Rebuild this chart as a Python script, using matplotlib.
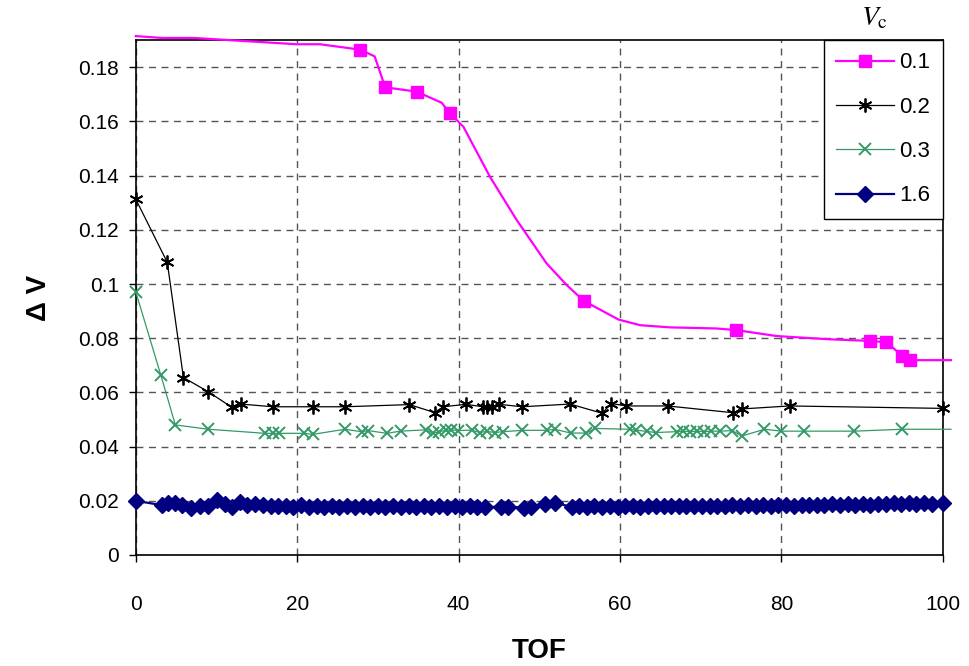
import matplotlib
matplotlib.use("Agg")
import matplotlib.pyplot as plt
from matplotlib.ticker import FuncFormatter

plt.rcParams["font.family"] = ["Liberation Sans", "DejaVu Sans"]
plt.rcParams["mathtext.fontset"] = "stix"

# Vc = 0.1 (smooth line, markers only on some points)
v01_x = [0, 3.3, 7.3, 19.9, 22.8, 27.8, 29.6, 30.9, 34.8, 37.9, 38.9, 40.6, 43.9,
         47.2, 50.9, 53.4, 55.5, 59.8, 62.5, 66.2, 71.9, 74.4, 79.4, 86.0, 91.0,
         93.0, 95.0, 95.9, 101.0]
v01_y = [0.1915, 0.1908, 0.1908, 0.1885, 0.1885, 0.1865, 0.184, 0.1726, 0.171,
         0.1669, 0.1631, 0.158, 0.1395, 0.1236, 0.1076, 0.0996, 0.0938, 0.0869,
         0.0848, 0.084, 0.0836, 0.083, 0.0808, 0.0796, 0.079, 0.0785, 0.0735,
         0.0719, 0.0719]
v01_marked = [5, 7, 8, 10, 16, 21, 24, 25, 26, 27]

# Vc = 0.2
v02_x = [0, 3.9, 5.9, 9.0, 11.9, 13.0, 17.0, 22.0, 25.9, 33.9, 37.1, 38.1, 40.9,
         43.0, 43.5, 44.1, 45.0, 47.9, 53.8, 57.8, 58.9, 60.8, 65.9, 74.0, 75.1,
         81.0, 100]
v02_y = [0.1313, 0.108, 0.0655, 0.0602, 0.0545, 0.0557, 0.0547, 0.0547, 0.0547,
         0.0555, 0.0525, 0.0547, 0.0556, 0.0547, 0.0547, 0.0547, 0.0556, 0.0547,
         0.0557, 0.0523, 0.0559, 0.055, 0.055, 0.0525, 0.0539, 0.055, 0.0541]

# Vc = 0.3
v03_x = [0, 3.1, 4.9, 9.0, 16.0, 17.0, 17.8, 20.9, 21.9, 25.9, 28.0, 28.8, 31.1,
         32.8, 36.0, 36.8, 37.6, 38.4, 39.1, 39.9, 41.6, 42.6, 43.5, 44.5, 45.5,
         47.9, 50.9, 51.9, 53.9, 55.8, 56.9, 61.2, 62.0, 63.3, 64.4, 67.0, 67.8,
         68.7, 69.5, 70.4, 71.3, 72.4, 73.9, 75.1, 77.9, 80.0, 82.8, 89.0, 95.0,
         101.0]
v03_y = [0.0971, 0.0664, 0.048, 0.0464, 0.0449, 0.0449, 0.0449, 0.0449, 0.0445,
         0.0464, 0.0455, 0.0459, 0.0449, 0.0457, 0.0462, 0.0449, 0.0455, 0.046,
         0.0462, 0.0459, 0.0461, 0.0452, 0.0456, 0.0452, 0.0455, 0.046, 0.046,
         0.0464, 0.045, 0.045, 0.0467, 0.0464, 0.0461, 0.0456, 0.0452, 0.0455,
         0.0457, 0.0455, 0.0457, 0.0455, 0.0457, 0.0457, 0.0459, 0.0439, 0.0464,
         0.0457, 0.0457, 0.0457, 0.0464, 0.0464]

# Vc = 1.6
v16_x = [0, 3.2, 4.0, 4.8, 5.7, 6.9, 7.9, 9.0, 10.1, 11.0, 11.9, 12.9, 13.8, 14.8,
         15.7, 16.7, 17.6, 18.6, 19.5, 20.5, 21.4, 22.4, 23.3, 24.3, 25.2, 26.2,
         27.1, 28.1, 29.0, 30.0, 30.9, 31.9, 32.8, 33.8, 34.7, 35.7, 36.6, 37.6,
         38.5, 39.5, 40.4, 41.4, 42.3, 43.3, 45.2, 46.1, 48.1, 49.0, 50.7, 51.9,
         54.0, 54.9, 55.9, 56.8, 57.8, 58.7, 59.7, 60.6, 61.6, 62.5, 63.5, 64.4,
         65.4, 66.3, 67.3, 68.2, 69.2, 70.1, 71.1, 72.0, 73.0, 73.9, 74.9, 75.8,
         76.8, 77.7, 78.7, 79.6, 80.6, 81.5, 82.5, 83.4, 84.4, 85.3, 86.3, 87.2,
         88.2, 89.1, 90.1, 91.0, 92.0, 92.9, 93.9, 94.8, 95.8, 96.7, 97.7, 98.6,
         100.0]
v16_y = [0.0200, 0.0184, 0.0190, 0.0192, 0.0186, 0.0174, 0.0180, 0.0182, 0.0203,
         0.0188, 0.0176, 0.0195, 0.0186, 0.0188, 0.0186, 0.0182, 0.0179, 0.0182,
         0.0178, 0.0184, 0.0178, 0.0181, 0.0178, 0.0180, 0.0178, 0.0181, 0.0178,
         0.0180, 0.0178, 0.0181, 0.0178, 0.0180, 0.0178, 0.0181, 0.0178, 0.0180,
         0.0178, 0.0181, 0.0178, 0.0180, 0.0178, 0.0181, 0.0178, 0.0178, 0.0177,
         0.0178, 0.0175, 0.0178, 0.0188, 0.0192, 0.0178, 0.0180, 0.0178, 0.0179,
         0.0178, 0.0180, 0.0178, 0.0179, 0.0180, 0.0178, 0.0180, 0.0179, 0.0181,
         0.0179, 0.0180, 0.0182, 0.0180, 0.0181, 0.0180, 0.0182, 0.0180, 0.0183,
         0.0181, 0.0183, 0.0180, 0.0184, 0.0182, 0.0184, 0.0183, 0.0181, 0.0185,
         0.0183, 0.0186, 0.0184, 0.0187, 0.0185, 0.0187, 0.0186, 0.0188, 0.0186,
         0.0189, 0.0187, 0.0190, 0.0188, 0.0190, 0.0189, 0.0191, 0.0189, 0.0192]

fig = plt.figure(figsize=(9.7, 6.66), dpi=100)
ax = fig.add_axes([0.140, 0.1667, 0.832, 0.773])

ax.plot(v01_x, v01_y, color="#FF00FF", lw=1.6, marker="s", ms=8.5,
        markevery=v01_marked, label="0.1", clip_on=False, zorder=5)
ax.plot(v02_x, v02_y, color="black", lw=0.9, marker=(6, 2, 0), ms=10, mew=1.3,
        label="0.2", clip_on=False, zorder=4)
ax.plot(v03_x, v03_y, color="#339966", lw=0.9, marker="x", ms=9, mew=1.4,
        markevery=list(range(len(v03_x) - 1)), label="0.3", clip_on=False,
        zorder=3)
ax.plot(v16_x, v16_y, color="#000080", lw=1.6, marker="D", ms=8.5,
        label="1.6", clip_on=False, zorder=3)

ax.set_xlim(0, 100)
ax.set_ylim(0, 0.19)
ax.set_xticks([0, 20, 40, 60, 80, 100])
ax.set_yticks([0, 0.02, 0.04, 0.06, 0.08, 0.1, 0.12, 0.14, 0.16, 0.18])
ax.yaxis.set_major_formatter(FuncFormatter(lambda v, p: "%g" % v))
ax.grid(True, color="#555555", linestyle=(0, (5, 4)), linewidth=1)
ax.tick_params(labelsize=15, direction="out", length=5, width=1)
ax.tick_params(axis="y", pad=7)
ax.tick_params(axis="x", pad=24)
for s in ax.spines.values():
    s.set_linewidth(1.2)

ax.set_xlabel("TOF", fontsize=20, fontweight="bold", va="center")
ax.xaxis.set_label_coords(0.5, -0.186)
ax.set_ylabel("Δ V", fontsize=20, fontweight="bold", labelpad=19)

leg = ax.legend(loc="upper right", bbox_to_anchor=(1, 1), borderaxespad=0,
                fancybox=False, edgecolor="black", framealpha=1, fontsize=16,
                handlelength=2.6, labelspacing=1.05, borderpad=0.55,
                handletextpad=0.25)
leg.get_frame().set_linewidth(1)
fig.text(0.902, 0.972, r"$V_{\mathrm{c}}$", fontsize=20, ha="center", va="center")

fig.savefig("out.png", dpi=100)
